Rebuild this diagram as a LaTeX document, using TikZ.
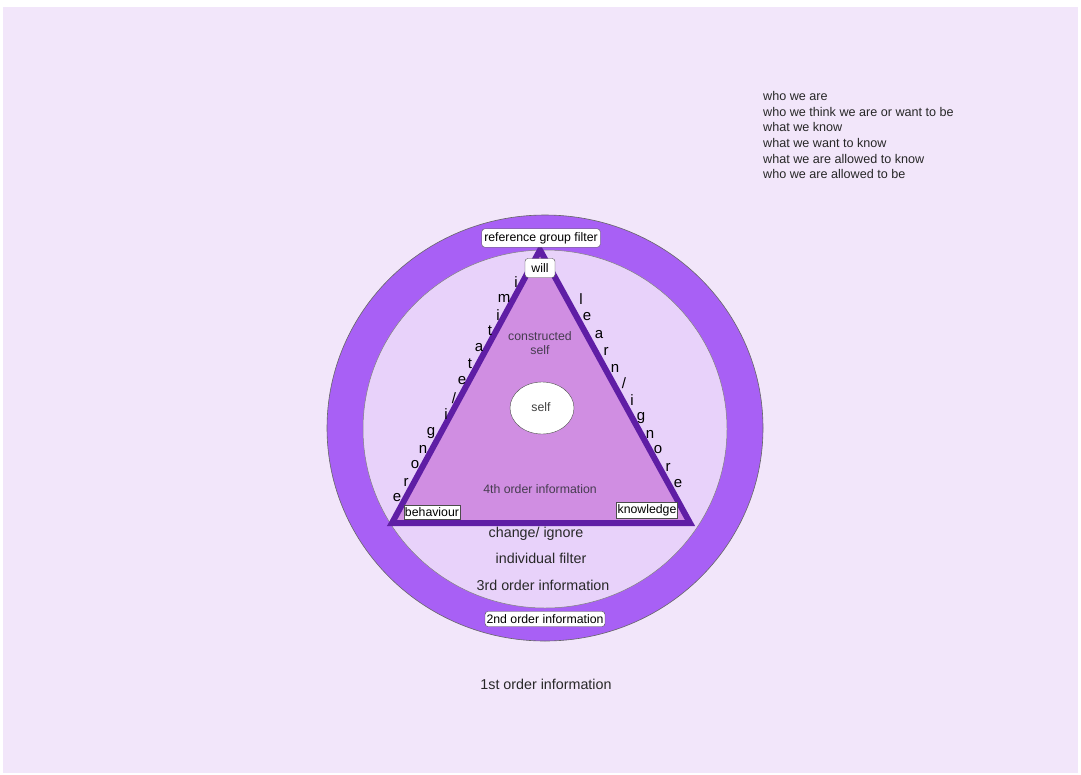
\documentclass[tikz,border=0pt]{standalone}
\usepackage{fontspec}
\setmainfont{Liberation Sans}
\usetikzlibrary{shapes.geometric}
\definecolor{bgc}{RGB}{242,230,250}
\definecolor{ringc}{RGB}{168,96,245}
\definecolor{diskc}{RGB}{232,210,250}
\definecolor{trifill}{RGB}{208,142,226}
\definecolor{tristroke}{RGB}{95,30,165}
\definecolor{txt}{RGB}{40,40,40}
\definecolor{softtxt}{RGB}{70,60,80}
\begin{document}
\begin{tikzpicture}[x=1pt,y=-1pt,
  lbl/.style={font=\fontsize{14.3}{16}\selectfont,text=txt,inner sep=0pt},
  boxlbl/.style={draw=black!70,fill=white,rounded corners=3pt,font=\fontsize{12.3}{14}\selectfont,text=black,inner xsep=2.5pt,inner ysep=3.5pt},
  sidelet/.style={font=\fontsize{15}{17}\selectfont,text=black,inner sep=0pt},
  listtxt/.style={font=\fontsize{12.6}{15.7}\selectfont,text=txt,align=left,inner sep=0pt},
  soft/.style={font=\fontsize{12.3}{15}\selectfont,text=softtxt,inner sep=0pt,align=center}]
\useasboundingbox (0,0) rectangle (1081,774);
\fill[white] (0,0) rectangle (1081,774);
\fill[bgc] (3,7) rectangle (1078,773);
% ring
\filldraw[fill=ringc,draw=black!60,line width=0.6pt] (545,428) ellipse [x radius=218, y radius=213];
\filldraw[fill=diskc,draw=black!50,line width=0.5pt] (545,429) ellipse [x radius=182, y radius=179];
% triangle
\coordinate (apex) at (540,250);
\coordinate (bl) at (392,523);
\coordinate (br) at (690,523);
\filldraw[fill=trifill,draw=tristroke,line width=6pt,line join=miter] (apex) -- (br) -- (bl) -- cycle;
% self
\node[ellipse,draw=black!70,fill=white,minimum width=64pt,minimum height=52pt,inner sep=0pt] (self) at (542,408) {};
\node[soft,text=black!75] (selft) at (541,407) {self};
\node[soft] (cself) at (540,343) {constructed\\[-1pt]self};
\node[soft] (fourth) at (540,489) {4th order information};
% box labels
\node[boxlbl] (rgf) at (541,238) {reference group filter};
\node[boxlbl,minimum width=30pt,minimum height=19pt] (will) at (540,268) {will};
\node[boxlbl,rounded corners=0pt,inner ysep=2.5pt,inner xsep=1pt] (beh) at (432,512) {behaviour};
\node[boxlbl,rounded corners=0pt,inner ysep=2.5pt,inner xsep=1pt] (know) at (647,510) {knowledge};
\node[boxlbl,inner xsep=1.5pt,inner ysep=3pt] (second) at (545,619) {2nd order information};
% lower labels
\node[lbl] (chg) at (536,534) {change/ ignore};
\node[lbl] (indf) at (541,558) {individual filter};
\node[lbl] (third) at (543,585) {3rd order information};
\node[lbl] (first) at (546,684) {1st order information};
% left side letters: imitate/ ignore
\foreach \c/\x/\y [count=\i] in {i/516/282, m/504/298, i/498/315, t/490/331, a/479/348, t/470/364, e/462/381, {/}/454/398, i/446/414, g/431/433, n/423/449, o/415/465, r/406/482, e/397/498}
  \node[sidelet] (L\i) at (\x,\y) {\c};
% right side letters: learn/ ignore
\foreach \c/\x/\y [count=\i] in {l/581/299, e/587/317, a/599/335, r/606/351, n/615/368, {/}/624/383, i/632/400, g/641/418, n/650/434, o/658/450, r/668/467, e/678/484}
  \node[sidelet] (R\i) at (\x,\y) {\c};
% list
\node[listtxt,anchor=north west] (list) at (763,91) {who we are\\who we think we are or want to be\\what we know\\what we want to know\\what we are allowed to know\\who we are allowed to be};
\end{tikzpicture}
\end{document}
